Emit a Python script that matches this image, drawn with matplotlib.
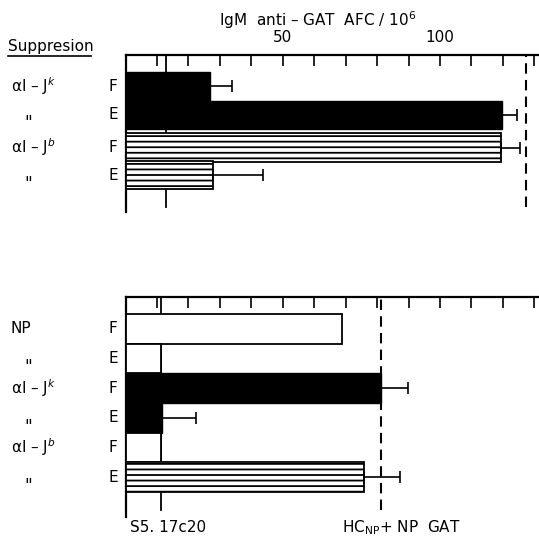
import numpy as np
import matplotlib.pyplot as plt

# top panel (suppression of IgM anti-GAT AFC)
top_rows = ["αI – J$^{k}$", "\"", "αI – J$^{b}$", "\""]
top_cells = ["F", "E", "F", "E"]
top_values = [27.0, 119.8, 119.5, 27.8]
top_errors = [6.8, 4.8, 6.0, 15.9]
top_fills = ["solid", "solid", "hatch", "hatch"]
top_background = 13.0
top_positive = 127.5

# bottom panel
bot_rows = ["NP", "\"", "αI – J$^{k}$", "\"", "αI – J$^{b}$", "\""]
bot_cells = ["F", "E", "F", "E", "F", "E"]
bot_values = [68.7, 11.3, 81.4, 11.6, 11.3, 75.7]
bot_errors = [0, 0, 8.3, 10.8, 0, 11.6]
bot_fills = ["open", "open", "solid", "solid", "open", "hatch"]
bot_background = 11.3
bot_positive = 81.4

W, H = 539, 541
plt.rcParams['hatch.linewidth'] = 1.3
fig = plt.figure(figsize=(W / 100, H / 100), dpi=100)


def px(x, y):
    return x / W, 1 - y / H


def panel(rect, rows, cells, values, errors, fills, bg, pos, ypos, ylim):
    ax = fig.add_axes(rect)
    ax.set_xlim(0, 131.5)
    ax.set_ylim(*ylim)
    for s in ["right", "bottom"]:
        ax.spines[s].set_visible(False)
    ax.spines["top"].set_linewidth(1.6)
    ax.spines["left"].set_linewidth(1.6)
    ax.set_yticks([])
    ax.xaxis.tick_top()
    ax.set_xticks(np.arange(0, 131, 10))
    ax.tick_params(axis="x", direction="in", length=8, width=1.2, pad=7,
                   labelsize=11)
    ax.axvline(bg, color="black", lw=1.3, ymin=0.03, zorder=1)
    ax.axvline(pos, color="black", lw=1.5, ls=(0, (5, 3)), ymin=0.03, zorder=1)
    for y, v, e, f in zip(ypos, values, errors, fills):
        if f == "solid":
            ax.barh(y, v, height=1.0, color="black", edgecolor="black", zorder=3)
        elif f == "hatch":
            ax.barh(y, v, height=1.0, color="white", edgecolor="black",
                    hatch="---", lw=1.3, zorder=3)
        else:
            ax.barh(y, v, height=1.0, color="white", edgecolor="black",
                    lw=1.3, zorder=3)
        if e > 0:
            ax.errorbar(v, y, xerr=[[0], [e]], fmt="none", ecolor="black",
                        elinewidth=1.2, capsize=4, capthick=1.2, zorder=4)
    for y, c in zip(ypos, cells):
        ax.text(-2.5, y, c, ha="right", va="center", fontsize=11)
    for y, r in zip(ypos, rows):
        if r == "\"":
            ax.text(-31, y + 0.3, r, ha="center", va="center", fontsize=12)
        else:
            ax.text(-36.5, y, r, ha="left", va="center", fontsize=11)
    return ax


# top axes: y 55..212 px, row height 28.5 px
top_y = np.arange(4) + np.array([0, 0, 0.15, 0.12])
ax1 = panel([125.5 / W, 1 - 212 / H, (W - 125.5) / W, 157 / H],
            top_rows, top_cells, top_values, top_errors, top_fills,
            top_background, top_positive, top_y, (4.41, -1.1))
ax1.set_xticklabels(["50" if t == 50 else "100" if t == 100 else ""
                     for t in np.arange(0, 131, 10)])

# bottom axes: y 297..517 px, row height 29.7 px
bot_y = np.arange(6)
ax2 = panel([125.5 / W, 1 - 517 / H, (W - 125.5) / W, 220 / H],
            bot_rows, bot_cells, bot_values, bot_errors, bot_fills,
            bot_background, bot_positive, bot_y, (6.34, -1.07))
ax2.set_xticklabels([])

fig.text(*px(318, 20), "IgM  anti – GAT  AFC / 10$^{6}$", ha="center",
         va="center", fontsize=11)
fig.text(*px(8, 47), "Suppresion", ha="left", va="center", fontsize=11)
fig.add_artist(plt.Line2D([8 / W, 91 / W], [1 - 56 / H, 1 - 56 / H],
                          color="black", lw=1.2))
fig.text(*px(130, 528), "S5. 17c20", ha="left", va="center", fontsize=11)
fig.text(*px(342, 528), "HC$_{\\mathregular{NP}}$+ NP  GAT", ha="left",
         va="center", fontsize=11)

fig.savefig("out.png", dpi=100)
